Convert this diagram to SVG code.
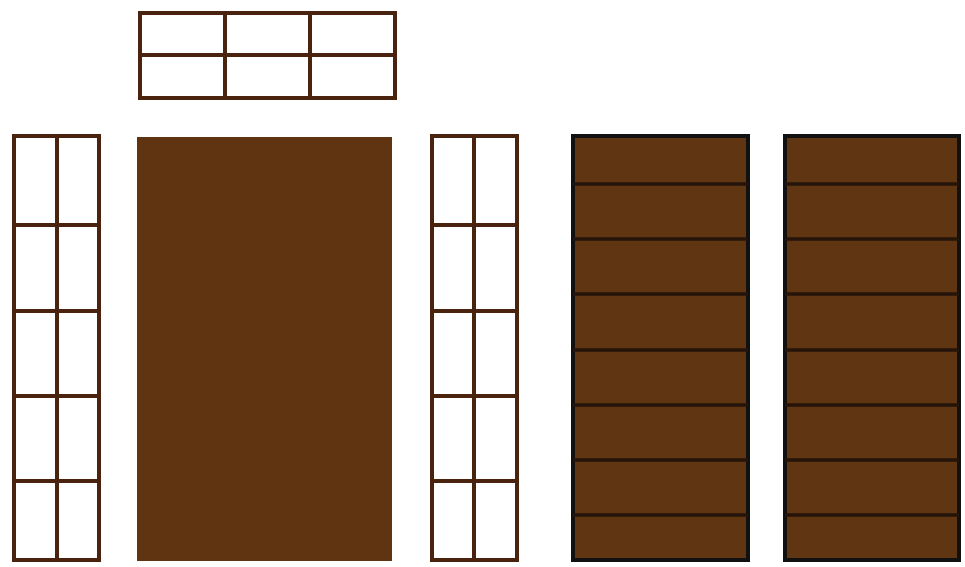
<svg xmlns="http://www.w3.org/2000/svg" width="965" height="567" viewBox="0 0 965 567">
<style>
.frame{fill:none;stroke:#4a230e;stroke-width:4}
.door{fill:#603410}
.shutter{fill:#603511;stroke:#111;stroke-width:4}
.slat{stroke:#24140a;stroke-width:3.5}
</style>
<rect width="965" height="567" fill="#fff"/>
<g id="transom">
<rect class="frame" x="140" y="13" width="255" height="85"/>
<line class="frame" x1="140" y1="55" x2="395" y2="55"/>
<line class="frame" x1="225" y1="13" x2="225" y2="98"/>
<line class="frame" x1="310" y1="13" x2="310" y2="98"/>
</g>
<g id="left-sidelight">
<rect class="frame" x="14" y="136" width="85" height="424"/>
<line class="frame" x1="57" y1="136" x2="57" y2="560"/>
<line class="frame" x1="14" y1="225" x2="99" y2="225"/>
<line class="frame" x1="14" y1="311" x2="99" y2="311"/>
<line class="frame" x1="14" y1="396" x2="99" y2="396"/>
<line class="frame" x1="14" y1="481" x2="99" y2="481"/>
</g>
<g id="door">
<rect class="door" x="137" y="137" width="255" height="424"/>
</g>
<g id="right-sidelight">
<rect class="frame" x="432" y="136" width="85" height="424"/>
<line class="frame" x1="474" y1="136" x2="474" y2="560"/>
<line class="frame" x1="432" y1="225" x2="517" y2="225"/>
<line class="frame" x1="432" y1="311" x2="517" y2="311"/>
<line class="frame" x1="432" y1="396" x2="517" y2="396"/>
<line class="frame" x1="432" y1="481" x2="517" y2="481"/>
</g>
<g id="shutter-left">
<rect class="shutter" x="573" y="136" width="175" height="424"/>
<line class="slat" x1="573" y1="184" x2="748" y2="184"/>
<line class="slat" x1="573" y1="239" x2="748" y2="239"/>
<line class="slat" x1="573" y1="294" x2="748" y2="294"/>
<line class="slat" x1="573" y1="350" x2="748" y2="350"/>
<line class="slat" x1="573" y1="405" x2="748" y2="405"/>
<line class="slat" x1="573" y1="460" x2="748" y2="460"/>
<line class="slat" x1="573" y1="515" x2="748" y2="515"/>
</g>
<g id="shutter-right">
<rect class="shutter" x="785" y="136" width="174" height="424"/>
<line class="slat" x1="785" y1="184" x2="959" y2="184"/>
<line class="slat" x1="785" y1="239" x2="959" y2="239"/>
<line class="slat" x1="785" y1="294" x2="959" y2="294"/>
<line class="slat" x1="785" y1="350" x2="959" y2="350"/>
<line class="slat" x1="785" y1="405" x2="959" y2="405"/>
<line class="slat" x1="785" y1="460" x2="959" y2="460"/>
<line class="slat" x1="785" y1="515" x2="959" y2="515"/>
</g>
<g id="connectors"></g>
</svg>
